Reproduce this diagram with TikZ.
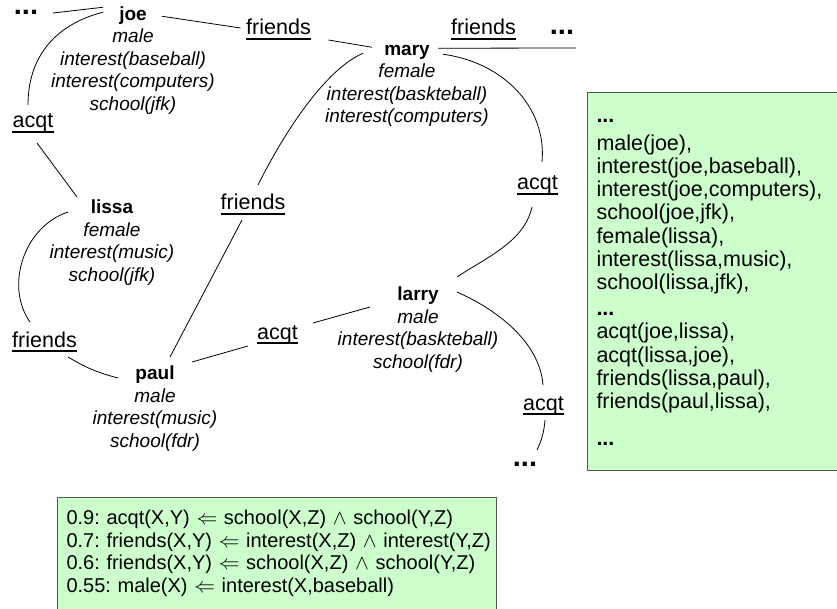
\documentclass[tikz,border=0pt]{standalone}
\usepackage{fontspec}
\setmainfont{Liberation Sans}
\usetikzlibrary{calc}
\definecolor{boxgreen}{HTML}{CCFFCC}
\definecolor{boxedge}{HTML}{555555}
\frenchspacing
\begin{document}
\begin{tikzpicture}[x=1pt,y=-1pt,
  person/.style={align=center, anchor=north, inner sep=0pt, font=\fontsize{19}{22.5}\selectfont\itshape},
  lbl/.style={anchor=base, inner sep=0pt, font=\fontsize{21.5}{24}\selectfont},
  ulbl/.style={lbl, append after command={([yshift=-4pt]\tikzlastnode.base west) edge[draw, line width=1.3pt] ([yshift=-4pt]\tikzlastnode.base east)}},
  dots/.style={anchor=base, inner sep=0pt, text height=5pt, text depth=0pt, font=\fontsize{29}{30}\selectfont\bfseries},
  link/.style={draw, line width=0.8pt},
  panel/.style={draw=boxedge, line width=1pt, fill=boxgreen, anchor=north west, align=left},
]
\useasboundingbox (0,0) rectangle (837,609);

% green panels
\node[panel, text width=240pt, inner xsep=9pt, inner ysep=13.3pt,
      font=\fontsize{21.5}{23.2}\selectfont] (facts) at (587,92)
  {\textbf{...}\strut\\[5pt]
   male(joe),\\
   interest(joe,baseball),\\
   interest(joe,computers),\\
   school(joe,jfk),\\
   female(lissa),\\
   interest(lissa,music),\\
   school(lissa,jfk),\\[3pt]
   \textbf{...}\\
   acqt(joe,lissa),\\
   acqt(lissa,joe),\\
   friends(lissa,paul),\\
   friends(paul,lissa),\\[14pt]
   \textbf{...}\rule[-12pt]{0pt}{12pt}};

\node[panel, text width=421pt, inner xsep=9pt, inner ysep=11.25pt,
      font=\fontsize{20}{22.5}\selectfont] (rules) at (57,497)
  {\mbox{0.9: acqt(X,Y) $\Leftarrow$ school(X,Z) $\wedge$ school(Y,Z)}\strut\\
   \mbox{0.7: friends(X,Y) $\Leftarrow$ interest(X,Z) $\wedge$ interest(Y,Z)}\\
   \mbox{0.6: friends(X,Y) $\Leftarrow$ school(X,Z) $\wedge$ school(Y,Z)}\\
   \mbox{0.55: male(X) $\Leftarrow$ interest(X,baseball)}\strut};

% people
\node[person] (joe) at (133,4.25) {\textbf{\upshape joe}\strut\\male\\interest(baseball)\\interest(computers)\\school(jfk)};
\node[person] (mary) at (407,39.25) {\textbf{\upshape mary}\strut\\female\\interest(baskteball)\\interest(computers)};
\node[person] (lissa) at (112,198) {\textbf{\upshape lissa}\strut\\female\\interest(music)\\school(jfk)};
\node[person] (paul) at (155,364) {\textbf{\upshape paul}\strut\\male\\interest(music)\\school(fdr)};
\node[person] (larry) at (418,285) {\textbf{\upshape larry}\strut\\male\\interest(baskteball)\\school(fdr)};

% relation labels
\node[ulbl] (fr1) at (278.5,35) {friends};
\node[ulbl] (fr2) at (483.5,35) {friends};
\node[ulbl] (ac1) at (33,128) {acqt};
\node[ulbl] (fr3) at (253,210) {friends};
\node[ulbl] (ac2) at (537.5,190) {acqt};
\node[ulbl] (fr4) at (44.5,347) {friends};
\node[ulbl] (ac3) at (277.5,339) {acqt};
\node[ulbl] (ac4) at (543.5,410) {acqt};

% ellipses
\node[dots] (d1) at (26,15) {...};
\node[dots] (d2) at (562,35) {...};
\node[dots] (d3) at (525,466) {...};
\coordinate (edgeR) at (576,48);

% connectors
\draw[link] ($(d1.base)+(27,-2)$) -- ($(joe.north)+(-30,3)$);
\draw[link] ($(joe.north)+(-30,8)$) .. controls +(-40,10) and +(0,-55) .. ($(ac1.base)+(-5,-23)$);
\draw[link] ($(ac1.base)+(4,15)$) -- ($(lissa.north)+(-35,-1)$);
\draw[link] ($(joe.north)+(29,12)$) -- ($(fr1.base)+(-38,-7)$);
\draw[link] ($(fr1.base)+(50,5)$) -- ($(mary.north)+(-35,8)$);
\draw[link] ($(mary.north)+(-44,14)$) .. controls +(-35,15) and +(30,-60) .. ($(fr3.base)+(5,-25)$);
\draw[link] ($(fr3.base)+(-11,10)$) -- ($(paul.north)+(15,-7)$);
\draw[link] ($(mary.north)+(36,15)$) .. controls +(60,8) and +(5,-55) .. ($(ac2.base)+(4.5,-28)$);
\draw[link] ($(ac2.base)+(-5.5,17)$) .. controls +(-8,35) and +(30,-20) .. ($(larry.north)+(39,-8)$);
\draw[link] ($(lissa.north)+(-44,14)$) .. controls +(-45,15) and +(-25,-35) .. ($(fr4.base)+(-14.5,-25)$);
\draw[link] ($(fr4.base)+(23.5,10)$) to[bend right=8] ($(paul.north)+(-37,14)$);
\draw[link] ($(paul.north)+(37,-2)$) -- ($(ac3.base)+(-29.5,7)$);
\draw[link] ($(ac3.base)+(35.5,-16)$) -- ($(larry.north)+(-48,22)$);
\draw[link] ($(larry.north)+(39,7)$) .. controls +(45,20) and +(-3,-40) .. ($(ac4.base)+(-0.5,-25)$);
\draw[link] ($(ac4.base)+(1.5,10)$) to[bend left=10] ($(d3.base)+(12,-16)$);
\draw[link] ($(mary.north)+(31,9)$) -- (edgeR);
\end{tikzpicture}
\end{document}
